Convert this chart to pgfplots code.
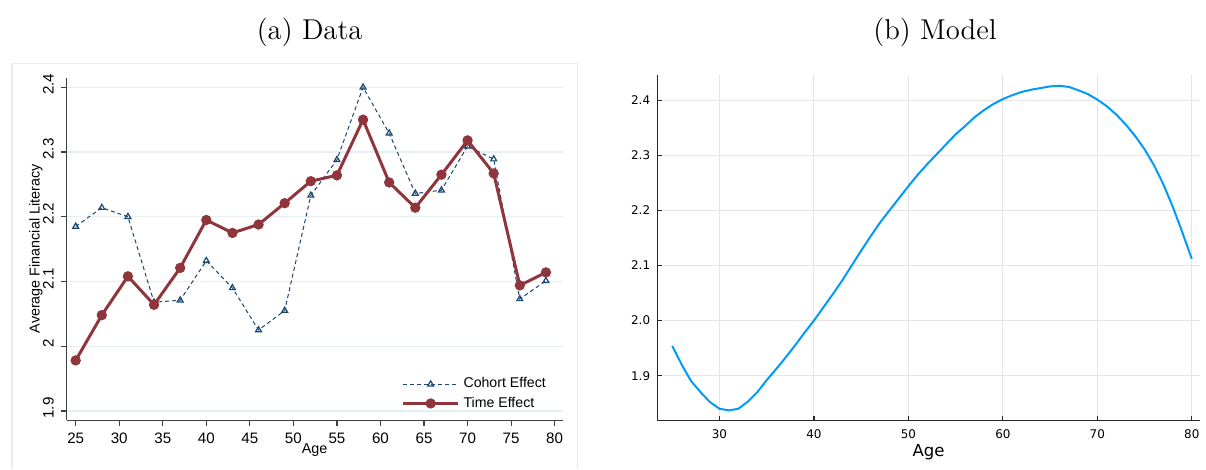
\documentclass[border=0pt]{standalone}
\usepackage{fontspec}
\usepackage{pgfplots}
\pgfplotsset{compat=1.18}
\newfontfamily\stata{Liberation Sans}
\newfontfamily\grf{DejaVu Sans}
\definecolor{cranberry}{RGB}{144,53,59}
\definecolor{navyS}{RGB}{26,71,111}
\definecolor{gridS}{RGB}{230,239,241}
\definecolor{juliablue}{RGB}{0,154,250}
\definecolor{frameS}{RGB}{232,238,240}

\pgfplotstableread{
age cohort time
25 2.185 1.978
28 2.214 2.048
31 2.200 2.108
34 2.068 2.064
37 2.071 2.121
40 2.132 2.195
43 2.090 2.175
46 2.025 2.188
49 2.055 2.221
52 2.233 2.255
55 2.288 2.264
58 2.400 2.350
61 2.329 2.253
64 2.236 2.214
67 2.241 2.265
70 2.309 2.318
73 2.289 2.267
76 2.073 2.094
79 2.101 2.114
}\datatab

\pgfplotstableread{
age model
25 1.954
26 1.920
27 1.890
28 1.870
29 1.852
30 1.840
31 1.837
32 1.840
33 1.853
34 1.870
35 1.892
36 1.912
37 1.933
38 1.955
39 1.978
40 2.000
41 2.024
42 2.048
43 2.073
44 2.100
45 2.127
46 2.153
47 2.178
48 2.200
49 2.222
50 2.244
51 2.265
52 2.284
53 2.302
54 2.320
55 2.338
56 2.353
57 2.369
58 2.382
59 2.393
60 2.402
61 2.409
62 2.415
63 2.419
64 2.422
65 2.425
66 2.426
67 2.424
68 2.418
69 2.411
70 2.401
71 2.389
72 2.374
73 2.356
74 2.335
75 2.311
76 2.282
77 2.247
78 2.206
79 2.160
80 2.112
}\modeltab

\begin{document}
\begin{tikzpicture}
\path (0pt,0pt) rectangle (603pt,236pt);
\draw[frameS, line width=0.6pt] (6pt,0.3pt) -- (6pt,204pt) -- (290pt,204pt) -- (290pt,0.3pt);
\node[font=\fontsize{14.4}{17}\selectfont] at (155.5pt,220pt) {(a) Data};
\node[font=\fontsize{14.4}{17}\selectfont] at (469.5pt,220pt) {(b) Model};
\node[font=\stata\fontsize{7.2}{9}\selectfont, rotate=90] at (18pt,111pt) {Average Financial Literacy};

\begin{axis}[
  at={(33.5pt,25pt)}, anchor=south west,
  width=249pt, height=172pt, scale only axis,
  xmin=23.97, xmax=80.91, ymin=1.8857, ymax=2.4149,
  axis x line*=bottom, axis y line*=left,
  xtick={25,30,...,80},
  ytick={1.9,2.0,2.1,2.2,2.3,2.4},
  yticklabels={1.9,2,2.1,2.2,2.3,2.4},
  tick align=outside, major tick length=3pt,
  ymajorgrids, grid style={gridS, line width=0.6pt},
  axis line style={black!75, line width=0.6pt},
  tick style={black!75, line width=0.6pt},
  /pgf/number format/assume math mode=true,
  ticklabel style={font=\stata\fontsize{7.6}{9}\selectfont},
  yticklabel style={rotate=90, anchor=south, xshift=1.5pt},
  xlabel={Age},
  xlabel style={font=\stata\fontsize{7.2}{9}\selectfont, at={(axis description cs:0.5,0)}, anchor=center, yshift=-15pt},
  legend cell align=left,
  legend style={draw=none, fill=none, inner sep=0pt, at={(0.675,0.137)}, anchor=north west,
    row sep=-1pt, font=\stata\fontsize{7.1}{9}\selectfont},
  legend image code/.code={\draw[mark repeat=2,mark phase=2,#1] plot coordinates {(0pt,0pt) (13.75pt,0pt) (27.5pt,0pt)};},
]
\addplot[navyS, line width=0.5pt, dash pattern=on 2pt off 1.5pt, mark=triangle, mark size=1.7pt, mark options={solid, line width=0.6pt}] table[x=age, y=cohort] {\datatab};
\addlegendentry{Cohort Effect}
\addplot[cranberry, line width=1.5pt, mark=*, mark size=1.8pt] table[x=age, y=time] {\datatab};
\addlegendentry{Time Effect}
\end{axis}

\begin{axis}[
  at={(330pt,24.85pt)}, anchor=south west,
  width=272.5pt, height=173.3pt, scale only axis,
  xmin=23.4, xmax=80.85, ymin=1.8187, ymax=2.445,
  axis x line*=bottom, axis y line*=left,
  xtick={30,40,...,80},
  ytick={1.9,2.0,2.1,2.2,2.3,2.4},
  yticklabels={1.9,2.0,2.1,2.2,2.3,2.4},
  tick align=inside, major tick length=2.5pt,
  grid=major, grid style={black!10, line width=0.5pt},
  axis line style={black!85, line width=0.6pt},
  tick style={black!85, line width=0.6pt},
  /pgf/number format/assume math mode=true,
  ticklabel style={font=\grf\fontsize{6}{7}\selectfont},
  xticklabel style={yshift=-1pt},
  xlabel={Age},
  xlabel style={font=\grf\fontsize{8.3}{10}\selectfont, at={(axis description cs:0.5,0)}, anchor=center, yshift=-16pt},
]
\addplot[juliablue, line width=1pt] table[x=age, y=model] {\modeltab};
\end{axis}
\end{tikzpicture}
\end{document}
